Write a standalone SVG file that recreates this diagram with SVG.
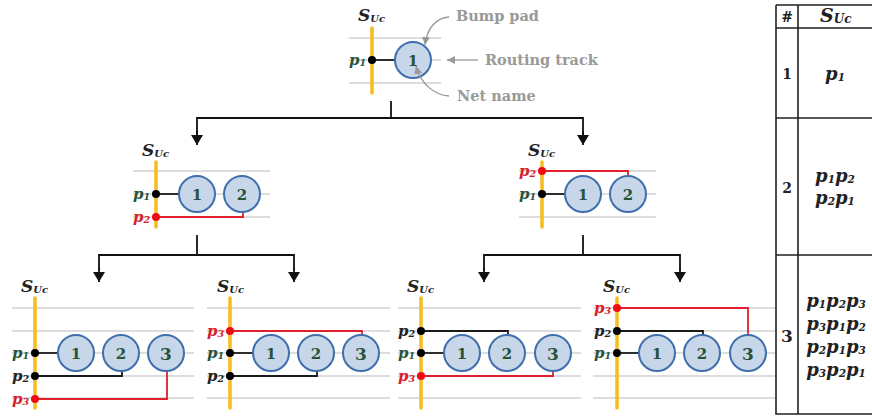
<svg xmlns="http://www.w3.org/2000/svg" width="872" height="416" viewBox="0 0 872 416">
<style>
text{font-family:"DejaVu Serif","Liberation Serif",serif;font-weight:bold}
.trk{stroke:#d2d2d2;stroke-width:1.6;fill:none}
.rail{stroke:#f5bd1f;stroke-width:3.5;stroke-linecap:round;fill:none}
.pad{fill:#c7d6e8;stroke:#3f6fad;stroke-width:2}
.net{font-size:15px;fill:#27533a;text-anchor:middle}
.n3{font-size:17px}
.blk{stroke:#1a1a1a;stroke-width:1.8;fill:none}
.red{stroke:#e0202c;stroke-width:1.8;fill:none}
.db{fill:#000}.dr{fill:#ee0c14}
.pl{font-size:15px;font-style:italic;text-anchor:end}
.sub{font-size:9.5px}
.g{fill:#27533a}.k{fill:#222}.r{fill:#d8202c}
.su{font-size:17px;font-style:italic;fill:#222}
.su2{font-size:10px}
.ann{font-size:14.5px;fill:#999}
.aline{stroke:#999;stroke-width:1.3;fill:none}
.conn{stroke:#111;stroke-width:1.8;fill:none}
.tb{stroke:#222;stroke-width:1.6;fill:none}
.th{font-size:14px;text-anchor:middle;fill:#222}
.tp{font-size:18px;font-style:italic;text-anchor:middle;fill:#222}
.ts{font-size:10.5px}
</style>
<defs>
<marker id="ah" markerUnits="userSpaceOnUse" markerWidth="12" markerHeight="12" refX="10" refY="6" orient="auto"><path d="M0,0L10,6L0,12Z" fill="#111"/></marker>
<marker id="ag" markerUnits="userSpaceOnUse" markerWidth="9" markerHeight="8" refX="8" refY="4" orient="auto"><path d="M0,0L8,4L0,8Z" fill="#999"/></marker>
</defs>

<g id="connectors">
<path class="conn" d="M391,101V118"/>
<path class="conn" d="M197,143V118H583V143"/>
<path class="conn" d="M197,131V145" marker-end="url(#ah)"/>
<path class="conn" d="M583,131V145" marker-end="url(#ah)"/>
<path class="conn" d="M197,235V255"/>
<path class="conn" d="M99,270V255H294V270"/>
<path class="conn" d="M99,268V282" marker-end="url(#ah)"/>
<path class="conn" d="M294,268V282" marker-end="url(#ah)"/>
<path class="conn" d="M583,235V255"/>
<path class="conn" d="M484,270V255H680V270"/>
<path class="conn" d="M484,268V282" marker-end="url(#ah)"/>
<path class="conn" d="M680,268V282" marker-end="url(#ah)"/>
</g>

<g id="node-root">
<path class="trk" d="M349,38H441M349,60H441M349,83H441"/>
<path class="rail" d="M372,28V93"/>
<path class="blk" d="M372,60H396"/>
<circle class="pad" cx="413" cy="60" r="18"/>
<circle class="db" cx="372" cy="60" r="4"/>
<text class="net" x="413" y="66">1</text>
<text class="pl g" x="366" y="65">p<tspan class="sub" dy="1">1</tspan></text>
<text class="su" x="358" y="21">S<tspan class="su2" dy="1">Uc</tspan></text>
</g>

<g id="annotations">
<text class="ann" x="456" y="21">Bump pad</text>
<text class="ann" x="485" y="65">Routing track</text>
<text class="ann" x="457" y="101">Net name</text>
<path class="aline" d="M449,17C436,18 427,28 425,45" marker-end="url(#ag)"/>
<path class="aline" d="M478,60H447" marker-end="url(#ag)"/>
<path class="aline" d="M449,96C434,95 421,84 416,66" marker-end="url(#ag)"/>
</g>

<g id="node-2a">
<path class="trk" d="M133,171H270M133,194H270M133,217H270"/>
<path class="rail" d="M156,162V227"/>
<path class="blk" d="M156,194H180"/>
<path class="red" d="M156,217H243V212"/>
<circle class="pad" cx="197" cy="194" r="18"/>
<circle class="pad" cx="242" cy="194" r="18"/>
<circle class="db" cx="156" cy="194" r="4"/>
<circle class="dr" cx="156" cy="217" r="4"/>
<text class="net" x="197" y="200">1</text>
<text class="net" x="242" y="200">2</text>
<text class="pl g" x="150" y="199">p<tspan class="sub" dy="1">1</tspan></text>
<text class="pl r" x="150" y="222">p<tspan class="sub" dy="1">2</tspan></text>
<text class="su" x="142" y="156">S<tspan class="su2" dy="1">Uc</tspan></text>
</g>

<g id="node-2b">
<path class="trk" d="M519,171H656M519,194H656M519,217H656"/>
<path class="rail" d="M542,162V227"/>
<path class="blk" d="M542,194H566"/>
<path class="red" d="M542,171H628V176"/>
<circle class="pad" cx="583" cy="194" r="18"/>
<circle class="pad" cx="628" cy="194" r="18"/>
<circle class="db" cx="542" cy="194" r="4"/>
<circle class="dr" cx="542" cy="171" r="4"/>
<text class="net" x="583" y="200">1</text>
<text class="net" x="628" y="200">2</text>
<text class="pl r" x="536" y="176">p<tspan class="sub" dy="1">2</tspan></text>
<text class="pl g" x="536" y="199">p<tspan class="sub" dy="1">1</tspan></text>
<text class="su" x="528" y="156">S<tspan class="su2" dy="1">Uc</tspan></text>
</g>

<g id="node-3a">
<path class="trk" d="M12,308H194M12,331H194M12,353H194M12,376H194M12,398H194"/>
<path class="rail" d="M35,298V408"/>
<path class="blk" d="M35,353H59"/>
<path class="blk" d="M35,376H122V371"/>
<path class="red" d="M35,399H167V371"/>
<circle class="pad" cx="76" cy="353" r="18"/>
<circle class="pad" cx="121" cy="353" r="18"/>
<circle class="pad" cx="166" cy="353" r="18"/>
<circle class="db" cx="35" cy="353" r="4"/>
<circle class="db" cx="35" cy="376" r="4"/>
<circle class="dr" cx="35" cy="399" r="4"/>
<text class="net" x="76" y="359">1</text>
<text class="net" x="121" y="359">2</text>
<text class="net n3" x="166" y="360">3</text>
<text class="pl g" x="29" y="358">p<tspan class="sub" dy="1">1</tspan></text>
<text class="pl k" x="29" y="381">p<tspan class="sub" dy="1">2</tspan></text>
<text class="pl r" x="29" y="404">p<tspan class="sub" dy="1">3</tspan></text>
<text class="su" x="21" y="292">S<tspan class="su2" dy="1">Uc</tspan></text>
</g>

<g id="node-3b">
<path class="trk" d="M207,308H390M207,331H390M207,353H390M207,376H390M207,398H390"/>
<path class="rail" d="M230,298V408"/>
<path class="blk" d="M230,353H254"/>
<path class="blk" d="M230,376H317V371"/>
<path class="red" d="M230,331H362V336"/>
<circle class="pad" cx="271" cy="353" r="18"/>
<circle class="pad" cx="316" cy="353" r="18"/>
<circle class="pad" cx="361" cy="353" r="18"/>
<circle class="db" cx="230" cy="353" r="4"/>
<circle class="db" cx="230" cy="376" r="4"/>
<circle class="dr" cx="230" cy="331" r="4"/>
<text class="net" x="271" y="359">1</text>
<text class="net" x="316" y="359">2</text>
<text class="net n3" x="361" y="360">3</text>
<text class="pl r" x="224" y="336">p<tspan class="sub" dy="1">3</tspan></text>
<text class="pl g" x="224" y="358">p<tspan class="sub" dy="1">1</tspan></text>
<text class="pl k" x="224" y="381">p<tspan class="sub" dy="1">2</tspan></text>
<text class="su" x="217" y="292">S<tspan class="su2" dy="1">Uc</tspan></text>
</g>

<g id="node-3c">
<path class="trk" d="M398,308H581M398,331H581M398,353H581M398,376H581M398,398H581"/>
<path class="rail" d="M421,298V408"/>
<path class="blk" d="M421,353H445"/>
<path class="blk" d="M421,331H508V336"/>
<path class="red" d="M421,376H553V371"/>
<circle class="pad" cx="462" cy="353" r="18"/>
<circle class="pad" cx="507" cy="353" r="18"/>
<circle class="pad" cx="553" cy="353" r="18"/>
<circle class="db" cx="421" cy="353" r="4"/>
<circle class="db" cx="421" cy="331" r="4"/>
<circle class="dr" cx="421" cy="376" r="4"/>
<text class="net" x="462" y="359">1</text>
<text class="net" x="507" y="359">2</text>
<text class="net n3" x="553" y="360">3</text>
<text class="pl k" x="415" y="336">p<tspan class="sub" dy="1">2</tspan></text>
<text class="pl g" x="415" y="358">p<tspan class="sub" dy="1">1</tspan></text>
<text class="pl r" x="415" y="381">p<tspan class="sub" dy="1">3</tspan></text>
<text class="su" x="407" y="292">S<tspan class="su2" dy="1">Uc</tspan></text>
</g>

<g id="node-3d">
<path class="trk" d="M593,308H776M593,331H776M593,353H776M593,376H776M593,398H776"/>
<path class="rail" d="M617,298V408"/>
<path class="blk" d="M617,353H640"/>
<path class="blk" d="M617,331H703V336"/>
<path class="red" d="M617,308H748V336"/>
<circle class="pad" cx="657" cy="353" r="18"/>
<circle class="pad" cx="702" cy="353" r="18"/>
<circle class="pad" cx="748" cy="353" r="18"/>
<circle class="db" cx="617" cy="353" r="4"/>
<circle class="db" cx="617" cy="331" r="4"/>
<circle class="dr" cx="617" cy="308" r="4"/>
<text class="net" x="657" y="359">1</text>
<text class="net" x="702" y="359">2</text>
<text class="net n3" x="748" y="360">3</text>
<text class="pl r" x="611" y="313">p<tspan class="sub" dy="1">3</tspan></text>
<text class="pl k" x="611" y="336">p<tspan class="sub" dy="1">2</tspan></text>
<text class="pl g" x="611" y="358">p<tspan class="sub" dy="1">1</tspan></text>
<text class="su" x="603" y="292">S<tspan class="su2" dy="1">Uc</tspan></text>
</g>

<g id="table">
<path class="tb" d="M776,5V414H872M776,5H872M798,5V414M776,28H872M776,118H872M776,255H872"/>
<text class="th" x="787" y="22">#</text>
<text class="su" x="820" y="22" style="font-size:19px">S<tspan dy="1" style="font-size:12px">Uc</tspan></text>
<text class="th" x="787" y="79">1</text>
<text class="th" x="787" y="193">2</text>
<text class="th" x="787" y="342" style="font-size:17px">3</text>
<text class="tp" x="835" y="80">p<tspan class="ts" dy="1">1</tspan></text>
<text class="tp" x="835" y="182">p<tspan class="ts" dy="1">1</tspan><tspan dy="-1">p</tspan><tspan class="ts" dy="1">2</tspan></text>
<text class="tp" x="835" y="204">p<tspan class="ts" dy="1">2</tspan><tspan dy="-1">p</tspan><tspan class="ts" dy="1">1</tspan></text>
<text class="tp" x="836" y="307">p<tspan class="ts" dy="1">1</tspan><tspan dy="-1">p</tspan><tspan class="ts" dy="1">2</tspan><tspan dy="-1">p</tspan><tspan class="ts" dy="1">3</tspan></text>
<text class="tp" x="836" y="330">p<tspan class="ts" dy="1">3</tspan><tspan dy="-1">p</tspan><tspan class="ts" dy="1">1</tspan><tspan dy="-1">p</tspan><tspan class="ts" dy="1">2</tspan></text>
<text class="tp" x="836" y="353">p<tspan class="ts" dy="1">2</tspan><tspan dy="-1">p</tspan><tspan class="ts" dy="1">1</tspan><tspan dy="-1">p</tspan><tspan class="ts" dy="1">3</tspan></text>
<text class="tp" x="836" y="376">p<tspan class="ts" dy="1">3</tspan><tspan dy="-1">p</tspan><tspan class="ts" dy="1">2</tspan><tspan dy="-1">p</tspan><tspan class="ts" dy="1">1</tspan></text>
</g>
</svg>
